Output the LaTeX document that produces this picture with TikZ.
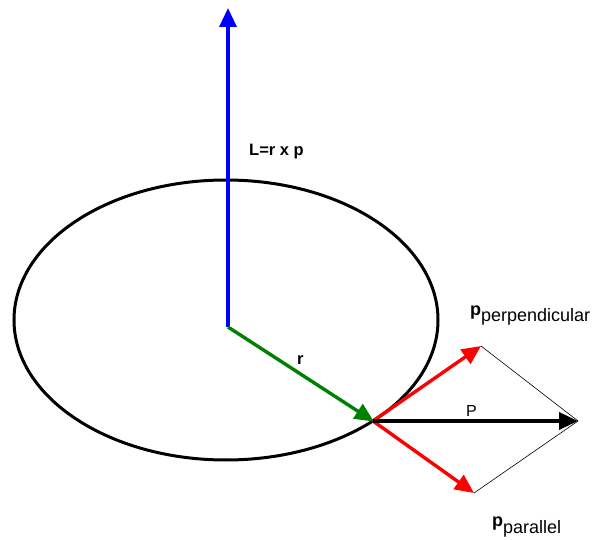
\documentclass[tikz,border=0pt]{standalone}
\usepackage{fontspec}
\setmainfont{Liberation Sans}
\usetikzlibrary{arrows.meta,shapes.geometric}
\definecolor{vblue}{RGB}{0,0,255}
\definecolor{vgreen}{RGB}{0,128,0}
\definecolor{vred}{RGB}{255,0,0}
\begin{document}
\begin{tikzpicture}[x=1pt,y=-1pt,
  vec/.style={line width=3.4pt,-{Triangle[length=19pt,width=17pt]}},
  thin/.style={line width=0.6pt},
  lbl/.style={inner sep=0pt,anchor=base west}]
\useasboundingbox (0,0) rectangle (595,540);
\node[draw,line width=3pt,ellipse,minimum width=424pt,minimum height=280pt,inner sep=0pt] (orbit) at (226,320) {};
\coordinate (O) at (228,327);
\coordinate (Ltip) at (228,8);
\coordinate (A) at (373,421);
\coordinate (Ptip) at (578,421);
\coordinate (Up) at (481,346);
\coordinate (Dn) at (474,493);
\draw[thin] (Up) -- (Ptip);
\draw[thin] (Dn) -- (Ptip);
\draw[vec,vblue] (O) -- (Ltip);
\draw[vec,vgreen,shorten >=-1pt] (O) -- (A);
\draw[vec,vred] (A) -- (Up);
\draw[vec,vred] (A) -- (Dn);
\draw[vec,black] (A) -- (Ptip);
\node[lbl,font=\bfseries\fontsize{16.5}{18}\selectfont] (Llab) at (249,156) {L=r x p};
\node[lbl,font=\bfseries\fontsize{16.5}{18}\selectfont] (rlab) at (297,364) {r};
\node[lbl,font=\fontsize{16}{18}\selectfont] (Plab) at (466,416) {P};
\node[lbl,font=\fontsize{18}{20}\selectfont] (perp) at (470,316) {\textbf{\fontsize{18}{20}\selectfont p}\raisebox{-6pt}{perpendicular}};
\node[lbl,font=\fontsize{18}{20}\selectfont] (par) at (492,526) {\textbf{\fontsize{18}{20}\selectfont p}\raisebox{-7pt}{parallel}};
\end{tikzpicture}
\end{document}
